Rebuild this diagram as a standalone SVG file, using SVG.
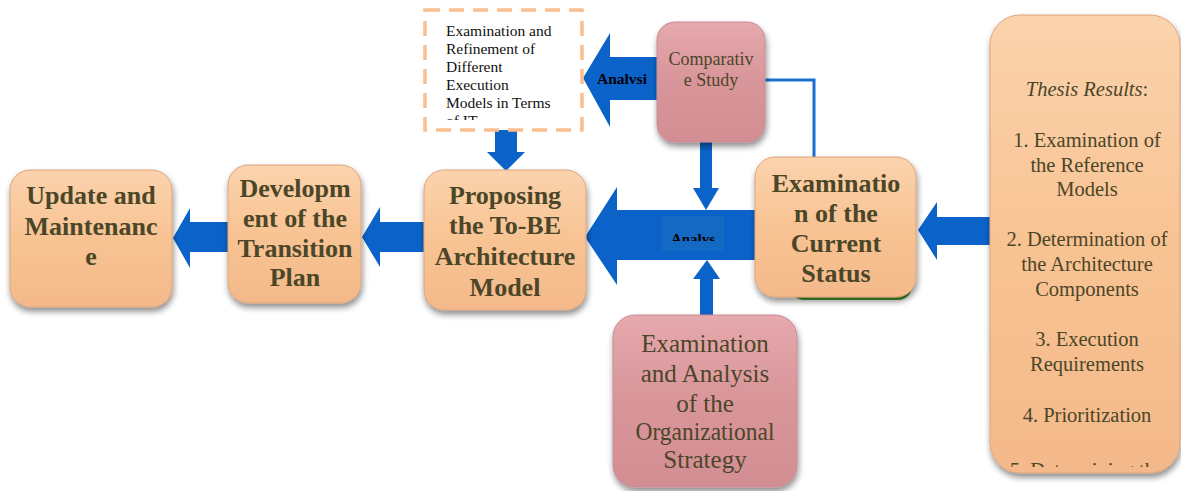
<svg xmlns="http://www.w3.org/2000/svg" width="1181" height="491" viewBox="0 0 1181 491">
<defs>
<linearGradient id="peach" x1="0" y1="0" x2="0" y2="1">
<stop offset="0" stop-color="#fbd3ad"/>
<stop offset="0.5" stop-color="#f8c393"/>
<stop offset="1" stop-color="#f4b98a"/>
</linearGradient>
<linearGradient id="pink" x1="0" y1="0" x2="0" y2="1">
<stop offset="0" stop-color="#e6a9ad"/>
<stop offset="0.5" stop-color="#d8959a"/>
<stop offset="1" stop-color="#d38e93"/>
</linearGradient>
<filter id="sh" x="-20%" y="-20%" width="140%" height="140%">
<feGaussianBlur in="SourceAlpha" stdDeviation="3"/>
<feOffset dx="1" dy="4" result="b"/>
<feComponentTransfer><feFuncA type="linear" slope="0.45"/></feComponentTransfer>
<feMerge><feMergeNode/><feMergeNode in="SourceGraphic"/></feMerge>
</filter>
<clipPath id="clipDash"><rect x="425" y="10" width="157" height="110"/></clipPath>
<clipPath id="clipAn"><rect x="655" y="212" width="70" height="29"/></clipPath>
<clipPath id="clipThesis"><rect x="990" y="15" width="191" height="452"/></clipPath>
</defs>
<style>
.box{fill:url(#peach);stroke:#dca57c;stroke-width:1;filter:url(#sh)}
.pbox{fill:url(#pink);stroke:#c98a95;stroke-width:1;filter:url(#sh)}
.arr{fill:#0b63c9}
.bt{font-family:"Liberation Serif","Times New Roman","DejaVu Serif",serif;font-weight:bold;fill:#4b4628;text-anchor:middle;font-size:26px}
.rt{font-family:"Liberation Serif","Times New Roman","DejaVu Serif",serif;font-weight:normal;fill:#4b4628;text-anchor:middle}
.st{font-family:"Liberation Serif","Times New Roman","DejaVu Serif",serif;font-weight:normal;fill:#111;font-size:15.5px}
.lab{font-family:"Liberation Serif","Times New Roman","DejaVu Serif",serif;font-weight:bold;fill:#000}
</style>

<g id="connectors">
<path class="arr" d="M173,238 L190,208 L190,222 L232,222 L232,252 L190,252 L190,268 Z"/>
<path class="arr" d="M362,237 L380,207 L380,222 L428,222 L428,252 L380,252 L380,267 Z"/>
<path class="arr" d="M585,237 L617,187 L617,210 L760,210 L760,260 L617,260 L617,285 Z"/>
<rect x="662" y="216" width="62" height="35" fill="#1469c2"/>
<text class="lab" font-size="15" x="693" y="244" text-anchor="middle" clip-path="url(#clipAn)">Analys</text>
<path class="arr" d="M583,78 L610,33 L610,57 L665,57 L665,100 L610,100 L610,127 Z"/>
<text class="lab" font-size="15.5" x="597" y="84">Analvsi</text>
<path class="arr" d="M495,130 L517,130 L517,152 L525,152 L506,171 L487,152 L495,152 Z"/>
<path class="arr" d="M700,140 L712,140 L712,188 L719,188 L706,210 L693,188 L700,188 Z"/>
<path class="arr" d="M700,320 L713,320 L713,279 L720,279 L707,260 L693,279 L700,279 Z"/>
<path class="arr" d="M918,230 L937,202 L937,217 L995,217 L995,245 L937,245 L937,260 Z"/>
<path d="M762,80 L814,80 L814,160" fill="none" stroke="#1a6fd0" stroke-width="3"/>
</g>

<g id="node-update">
<rect class="box" x="10" y="170" width="162" height="137" rx="20"/>
<text class="bt" x="91" y="204">Update and</text>
<text class="bt" x="91" y="235">Maintenanc</text>
<text class="bt" x="91" y="265">e</text>
</g>

<g id="node-development">
<rect class="box" x="228" y="165" width="133" height="138" rx="20"/>
<text class="bt" x="295" y="197">Developm</text>
<text class="bt" x="295" y="227">ent of the</text>
<text class="bt" x="295" y="257">Transition</text>
<text class="bt" x="295" y="286">Plan</text>
</g>

<g id="node-proposing">
<rect class="box" x="424" y="170" width="162" height="140" rx="20"/>
<text class="bt" x="505" y="204">Proposing</text>
<text class="bt" x="505" y="234">the To-BE</text>
<text class="bt" x="505" y="265">Architecture</text>
<text class="bt" x="505" y="296">Model</text>
</g>

<g id="node-refinement">
<rect x="425" y="10" width="157" height="120" fill="#fff" stroke="#f9bf8e" stroke-width="3.5" stroke-dasharray="15,9"/>
<g clip-path="url(#clipDash)">
<text class="st" x="446" y="36">Examination and</text>
<text class="st" x="446" y="54">Refinement of</text>
<text class="st" x="446" y="72">Different</text>
<text class="st" x="446" y="90">Execution</text>
<text class="st" x="446" y="108">Models in Terms</text>
<text class="st" x="446" y="126">of IT</text>
</g>
</g>

<g id="node-comparative">
<rect class="pbox" x="657" y="22" width="108" height="120" rx="18"/>
<text class="rt" font-size="18" x="711" y="65" fill="#5a5030">Comparativ</text>
<text class="rt" font-size="18" x="711" y="86" fill="#5a5030">e Study</text>
</g>

<g id="node-current">
<rect x="790" y="200" width="122" height="100" rx="14" fill="#4f9a35"/>
<rect class="box" x="755" y="157" width="161" height="140" rx="20"/>
<text class="bt" x="836" y="192">Examinatio</text>
<text class="bt" x="836" y="222">n of the</text>
<text class="bt" x="836" y="252">Current</text>
<text class="bt" x="836" y="282">Status</text>
</g>

<g id="node-strategy">
<rect class="pbox" x="613" y="315" width="184" height="172" rx="22"/>
<text class="rt" font-size="25" x="705" y="352">Examination</text>
<text class="rt" font-size="25" x="705" y="382">and Analysis</text>
<text class="rt" font-size="25" x="705" y="412">of the</text>
<text class="rt" font-size="25" x="705" y="440" textLength="139" lengthAdjust="spacingAndGlyphs">Organizational</text>
<text class="rt" font-size="25" x="705" y="468">Strategy</text>
</g>

<g id="node-thesis">
<rect class="box" x="990" y="15" width="190" height="458" rx="30"/>
<g clip-path="url(#clipThesis)">
<text class="rt" font-size="20.5" x="1087" y="96"><tspan font-style="italic">Thesis Results</tspan>:</text>
<text class="rt" font-size="20.5" x="1087" y="147">1. Examination of</text>
<text class="rt" font-size="20.5" x="1087" y="172">the Reference</text>
<text class="rt" font-size="20.5" x="1087" y="196">Models</text>
<text class="rt" font-size="20.5" x="1087" y="246">2. Determination of</text>
<text class="rt" font-size="20.5" x="1087" y="271">the Architecture</text>
<text class="rt" font-size="20.5" x="1087" y="296">Components</text>
<text class="rt" font-size="20.5" x="1087" y="346">3. Execution</text>
<text class="rt" font-size="20.5" x="1087" y="371">Requirements</text>
<text class="rt" font-size="20.5" x="1087" y="422">4. Prioritization</text>
<text class="rt" font-size="20.5" x="1087" y="477">5. Determining the</text>
</g>
</g>
</svg>
